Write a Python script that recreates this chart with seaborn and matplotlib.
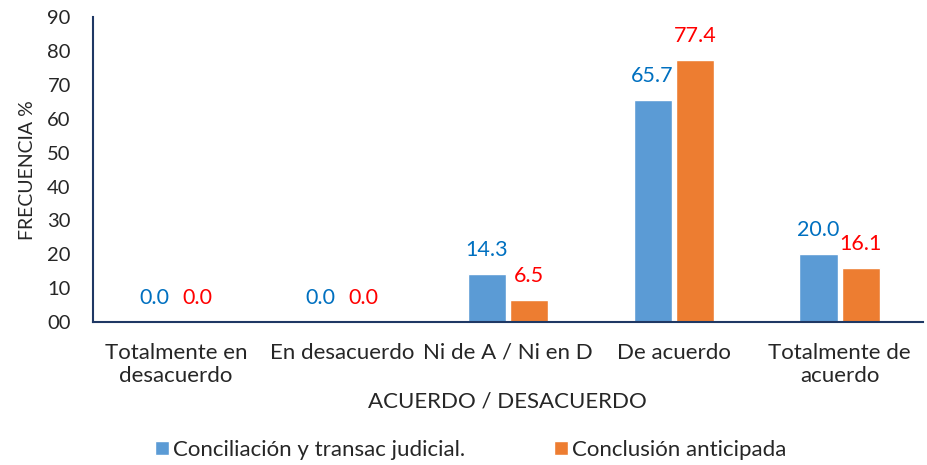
import matplotlib
matplotlib.use("Agg")
import matplotlib.pyplot as plt
import pandas as pd
import seaborn as sns

categorias = ["Totalmente en\ndesacuerdo", "En desacuerdo", "Ni de A / Ni en D",
              "De acuerdo", "Totalmente de\nacuerdo"]
conciliacion = [0.0, 0.0, 14.3, 65.7, 20.0]
conclusion = [0.0, 0.0, 6.5, 77.4, 16.1]
series = ["Conciliación y transac judicial.", "Conclusión anticipada"]
y_ticks = [0, 10, 20, 30, 40, 50, 60, 70, 80, 90]

df = pd.DataFrame({
    "cat": categorias * 2,
    "val": conciliacion + conclusion,
    "serie": [series[0]] * 5 + [series[1]] * 5,
})

sns.set_style("white")
plt.rcParams["font.family"] = ["Lato", "DejaVu Sans"]

bar_colors = ["#5B9BD5", "#ED7D31"]
label_colors = ["#0070C0", "#FF0000"]
axis_color = "#1F3864"

fig = plt.figure(figsize=(9.27, 4.65), dpi=100)
ax = fig.add_axes([0.1003, 0.3075, 0.895, 0.655])

sns.barplot(data=df, x="cat", y="val", hue="serie", palette=bar_colors,
            saturation=1, width=0.51, gap=0.1, ax=ax, legend=True)

for cont, col in zip(ax.containers, label_colors):
    ax.bar_label(cont, fmt="%.1f", padding=10, color=col, fontsize=15.5)

ax.set_ylim(0, 90)
ax.set_yticks(y_ticks)
ax.set_yticklabels([f"{t:02d}" for t in y_ticks], fontsize=14.5)
ax.tick_params(axis="x", labelsize=16, pad=15)
ax.tick_params(axis="y", pad=16)
ax.tick_params(length=0)
ax.set_xlabel("ACUERDO / DESACUERDO", fontsize=16, labelpad=4)
ax.set_ylabel("FRECUENCIA %", fontsize=14, labelpad=8)

for s in ["top", "right"]:
    ax.spines[s].set_visible(False)
for s in ["left", "bottom"]:
    ax.spines[s].set_color(axis_color)
    ax.spines[s].set_linewidth(1.5)

ax.legend(loc="center", bbox_to_anchor=(0.508, 1 - 450 / 465),
          bbox_transform=fig.transFigure, ncol=2, frameon=False,
          fontsize=16, handlelength=0.6, handleheight=0.6, handletextpad=0.2,
          columnspacing=4.0)

fig.savefig("out.png", dpi=100)
